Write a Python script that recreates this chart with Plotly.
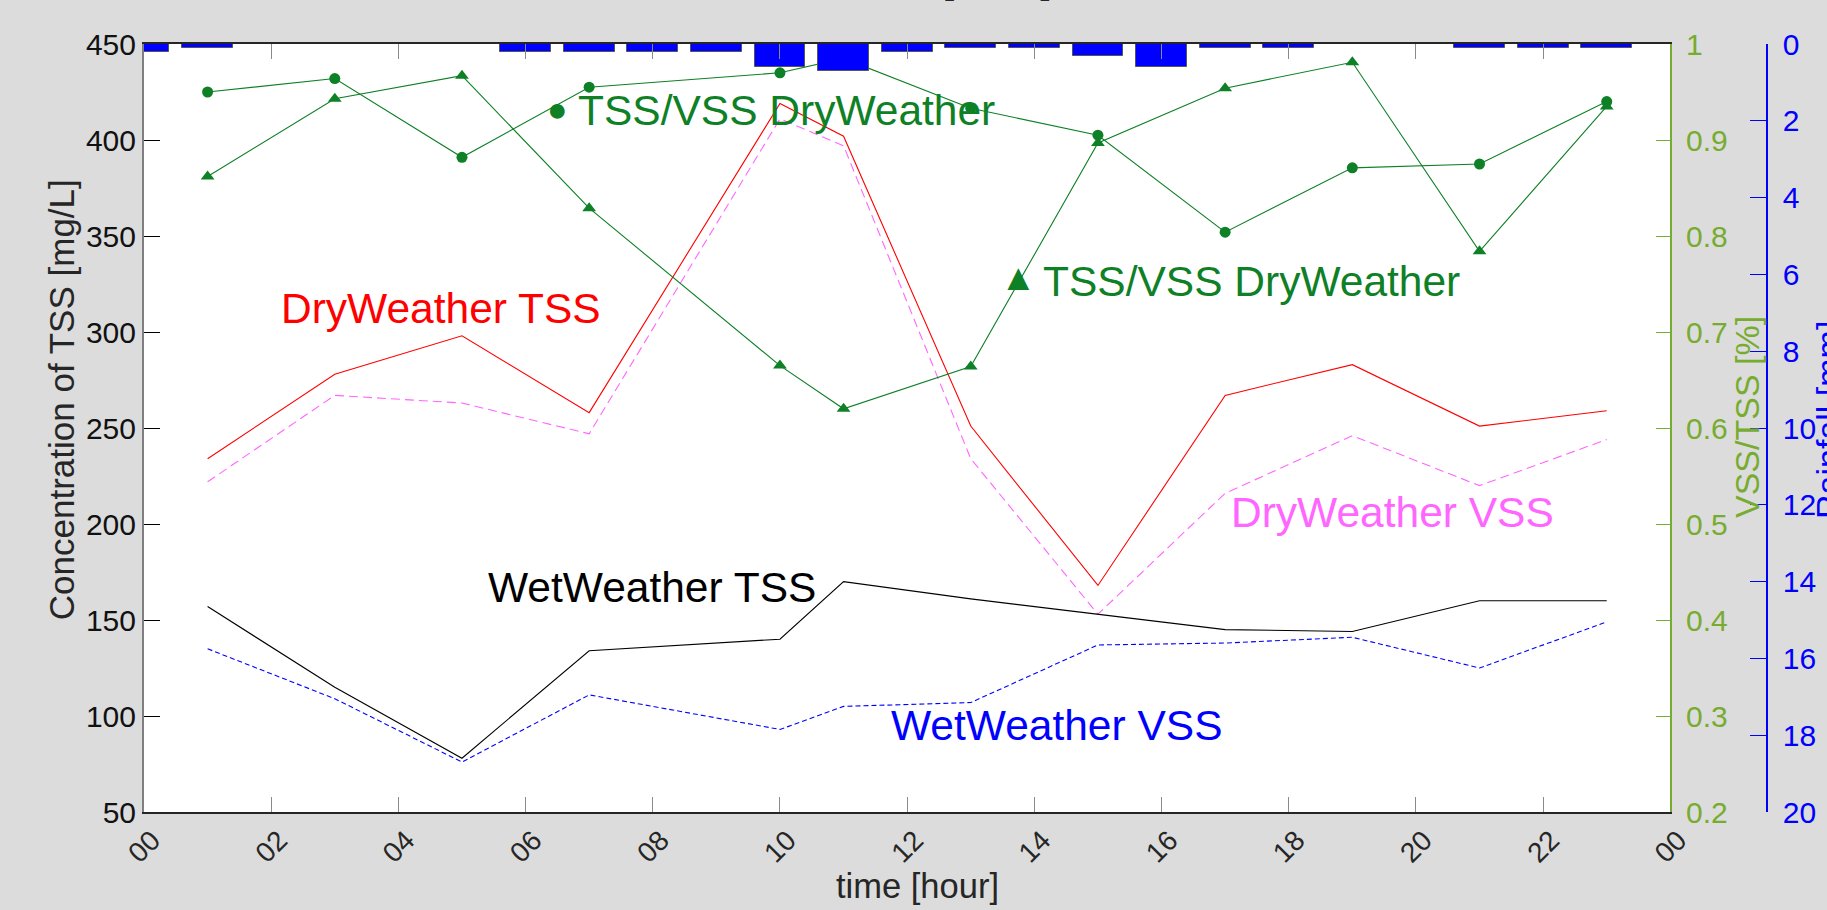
import plotly.graph_objects as go

# ---------------- data ----------------
hours = [1, 3, 5, 7, 10, 11, 13, 15, 17, 19, 21, 23]
dry_tss = [234, 278, 298, 258, 419, 402, 251, 168, 267, 283, 251, 259]
dry_vss = [222, 267, 263, 247, 411, 397, 234, 153, 216, 246, 220, 244]
wet_tss = [157, 115, 78, 134, 140, 170, 161, 153, 145, 144, 160, 160]
wet_vss = [135, 109, 76, 111, 93, 105, 107, 137, 138, 141, 125, 149]
ratio_circle = [0.950, 0.964, 0.882, 0.955, 0.970, 0.985, 0.933, 0.905, 0.804, 0.871, 0.875, 0.940]
ratio_triangle = [0.862, 0.943, 0.967, 0.829, 0.665, 0.620, 0.664, 0.897, 0.954, 0.981, 0.784, 0.935]

rain_hours = list(range(24))
rain_mm = [0.2, 0.1, 0, 0, 0, 0, 0.2, 0.2, 0.2, 0.2, 0.6, 0.7,
           0.2, 0.1, 0.1, 0.3, 0.6, 0.1, 0.1, 0, 0, 0.1, 0.1, 0.1]

x_tickvals = list(range(0, 25, 2))
x_ticktext = ["00", "02", "04", "06", "08", "10", "12", "14", "16", "18", "20", "22", "00"]
y_tickvals = list(range(50, 451, 50))
ratio_tickvals = [0.2, 0.3, 0.4, 0.5, 0.6, 0.7, 0.8, 0.9, 1.0]
ratio_ticktext = ["0.2", "0.3", "0.4", "0.5", "0.6", "0.7", "0.8", "0.9", "1"]
rain_tickvals = list(range(0, 21, 2))

# ---------------- layout geometry (pixels) ----------------
W, H = 1827, 910
PL, PR = 143.5, 1766.7      # paper area (left axis .. rainfall axis)
PT, PB = 44.3, 812.3
PLOT_RIGHT = 1670.0         # right edge of the white plotting box
xdom = (PLOT_RIGHT - PL) / (PR - PL)


def px(xp):
    return (xp - PL) / (PR - PL)


def py(yp):
    return (PB - yp) / (PB - PT)


FONT = "Liberation Sans, Arial, sans-serif"
GREEN = "rgb(14,128,38)"
OLIVE = "#77AC30"
MAGENTA = "#FF66FF"

fig = go.Figure()

fig.add_trace(go.Scatter(x=hours, y=dry_tss, mode="lines",
                         line=dict(color="#FF0000", width=1.1), xaxis="x", yaxis="y"))
fig.add_trace(go.Scatter(x=hours, y=dry_vss, mode="lines",
                         line=dict(color=MAGENTA, width=1.1, dash="9px,5px"), xaxis="x", yaxis="y"))
fig.add_trace(go.Scatter(x=hours, y=wet_tss, mode="lines",
                         line=dict(color="#000000", width=1.1), xaxis="x", yaxis="y"))
fig.add_trace(go.Scatter(x=hours, y=wet_vss, mode="lines",
                         line=dict(color="#0000FF", width=1.1, dash="5px,3px"), xaxis="x", yaxis="y"))
fig.add_trace(go.Scatter(x=hours, y=ratio_circle, mode="lines+markers",
                         line=dict(color=GREEN, width=1.1),
                         marker=dict(symbol="circle", size=11, color=GREEN),
                         xaxis="x", yaxis="y2"))
fig.add_trace(go.Scatter(x=hours, y=ratio_triangle, mode="lines+markers",
                         line=dict(color=GREEN, width=1.1),
                         marker=dict(symbol="triangle-up", size=12, color=GREEN),
                         xaxis="x", yaxis="y2"))
fig.add_trace(go.Bar(x=rain_hours, y=rain_mm, width=0.8,
                     marker=dict(color="#0000FF", line=dict(color="#555555", width=1)),
                     xaxis="x", yaxis="y3"))


def ann(text, x, y, size, color, xref="x", yref="y", xanchor="left", yanchor="middle", angle=0):
    return dict(text=text, x=x, y=y, xref=xref, yref=yref, xanchor=xanchor, yanchor=yanchor,
                textangle=angle, showarrow=False, font=dict(family=FONT, size=size, color=color))


LBL = 42.5
annotations = [
    # in-plot labels
    ann("DryWeather TSS", 2.13, 312, LBL, "#FF0000"),
    ann("DryWeather VSS", 17.06, 206, LBL, MAGENTA),
    ann("WetWeather TSS", 5.38, 167, LBL, "#000000"),
    ann("WetWeather VSS", 11.71, 95, LBL, "#0000FF"),
    ann("●", 6.50, 416, 34, GREEN, xanchor="center"),
    ann("TSS/VSS DryWeather", 6.80, 415.5, LBL, GREEN),
    ann("▲", 13.75, 328.5, 37, GREEN, xanchor="center"),
    ann("TSS/VSS DryWeather", 14.10, 326.5, LBL, GREEN),
    # axis titles
    ann("time [hour]", px(917), py(886), 34.5, "#262626", "paper", "paper", "center"),
    ann("Concentration of TSS [mg/L]", px(61), py(400), 35, "#262626", "paper", "paper", "center",
        angle=-90),
    ann("VSS/TSS [%]", px(1746), py(417), 34, OLIVE, "paper", "paper", "center", angle=-90),
    ann("Rainfall [mm]", px(1806), py(420), 34, "#0000FF", "paper", "paper", "left", angle=-90),
    # title of the rainfall axes, almost entirely above the page
    ann("time [hour]", px(950), py(3.4), 43, "#262626", "paper", "paper", "center", "bottom"),
]

fig.update_layout(
    width=W, height=H,
    margin=dict(l=PL, r=W - PR, t=PT, b=H - PB, pad=0),
    paper_bgcolor="#DCDCDC",
    plot_bgcolor="#DCDCDC",
    showlegend=False,
    bargap=0,
    shapes=[dict(type="rect", xref="paper", yref="paper", x0=0, x1=xdom, y0=0, y1=1,
                 fillcolor="white", line=dict(width=0), layer="below")],
    xaxis=dict(domain=[0, xdom], range=[0, 24], tickmode="array",
               tickvals=x_tickvals, ticktext=x_ticktext,
               ticks="inside", ticklen=15, tickcolor="#8a8a8a", tickwidth=1,
               showline=True, linecolor="#262626", linewidth=1.5, mirror="ticks",
               tickangle=-45, tickfont=dict(family=FONT, size=28, color="#262626"),
               ticklabelshift=8, ticklabelstandoff=-1,
               showgrid=False, zeroline=False),
    yaxis=dict(range=[50, 450], tickmode="array", tickvals=y_tickvals,
               ticks="inside", ticklen=16, tickcolor="#000000", tickwidth=1,
               showline=True, linecolor="#808080", linewidth=2,
               tickfont=dict(family=FONT, size=30, color="#111111"),
               showgrid=False, zeroline=False),
    yaxis2=dict(overlaying="y", side="right", anchor="x", range=[0.2, 1],
                tickmode="array", tickvals=ratio_tickvals, ticktext=ratio_ticktext,
                ticks="inside", ticklen=15, tickcolor=OLIVE, tickwidth=1,
                showline=True, linecolor=OLIVE, linewidth=1.5,
                tickfont=dict(family=FONT, size=30, color=OLIVE),
                ticklabelstandoff=8, showgrid=False, zeroline=False),
    yaxis3=dict(overlaying="y", side="right", anchor="free", position=1, range=[20, 0],
                tickmode="array", tickvals=rain_tickvals,
                ticks="inside", ticklen=16, tickcolor="#0000FF", tickwidth=1,
                showline=True, linecolor="#0000FF", linewidth=1.5,
                tickfont=dict(family=FONT, size=30, color="#0000FF"),
                ticklabelstandoff=9, showgrid=False, zeroline=False),
    annotations=annotations,
)

fig.write_html("out.html", config={"displayModeBar": False},
               post_script="document.body.style.margin='0';document.body.style.overflow='hidden';")
